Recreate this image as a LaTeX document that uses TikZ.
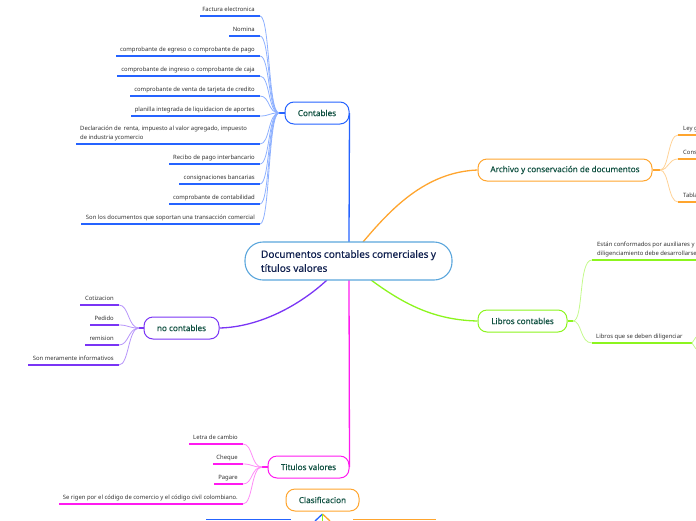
\documentclass[tikz,border=0pt]{standalone}
\usepackage{fontspec}
\setmainfont{Noto Sans}
\newfontfamily\heavyfont[FakeBold=0.25]{Noto Sans}
\usetikzlibrary{calc}
\definecolor{cblue}{HTML}{2563FF}
\definecolor{cblueL}{HTML}{8DB0FF}
\definecolor{cviol}{HTML}{7A35F5}
\definecolor{cviolL}{HTML}{B795FA}
\definecolor{cmag}{HTML}{FF1AF0}
\definecolor{cmagL}{HTML}{FF8CF7}
\definecolor{corg}{HTML}{FFA52E}
\definecolor{corgL}{HTML}{FFD296}
\definecolor{cgrn}{HTML}{8CF51E}
\definecolor{cgrnL}{HTML}{C4FA8C}
\definecolor{croot}{HTML}{5BA6DC}
\definecolor{ctxt}{HTML}{0F5040}
\definecolor{cnavy}{HTML}{10204F}
\definecolor{cleaf}{HTML}{333333}
\tikzset{
  x=1pt,y=-1pt,
  topic/.style={draw=#1,line width=1pt,fill=white,rounded corners=9pt,minimum height=22pt,inner sep=0pt,text=ctxt,font=\heavyfont\fontsize{8.15}{10}\selectfont},
  rootnode/.style={draw=croot,line width=1.1pt,fill=white,rounded corners=18pt,minimum height=38pt,minimum width=207pt,inner sep=0pt,text=cnavy,font=\heavyfont\fontsize{10.1}{14}\selectfont,align=left},
  leaftext/.style={text=cleaf,inner sep=0pt,font=\fontsize{5.9}{8.6}\selectfont},
  bar/.style={draw=#1,line width=1.5pt},
  twig/.style={draw=#1,line width=.8pt},
  main/.style={draw=#1,line width=1.3pt},
}
% name, left x, right x, bar y, text, bar colour, twig colour, junction
\newcommand{\leafL}[8]{%
  \coordinate (#1a) at (#2,#4);\coordinate (#1b) at (#3,#4);
  \node[leaftext,anchor=base east] (#1) at (#3-5,#4-5) {#5};
  \draw[twig=#7] (#1b) .. controls (#3+10,#4) and ($(#8)+(-11,0)$) .. (#8);
  \draw[bar=#6] (#1a) -- (#1b);
}
\begin{document}
\begin{tikzpicture}
\useasboundingbox (0,0) rectangle (696,520);
\clip (0,0) rectangle (696,520);
\coordinate (jc) at (279,113);
\coordinate (jn) at (139,328);
\coordinate (jt) at (262,467);
\coordinate (ja) at (660,170);
\coordinate (jl) at (573,321);
\node[topic=cblue,minimum width=64pt] (cont) at (317,113) {Contables};
\node[topic=cviol,minimum width=75pt] (noc) at (181.5,328) {no contables};
\node[topic=cmag,minimum width=81pt] (tit) at (308.5,467) {Titulos valores};
\node[topic=corg,minimum width=174pt] (arch) at (565,170) {Archivo y conservación de documentos};
\node[topic=cgrn,minimum width=89pt] (lib) at (522.5,321) {Libros contables};
\node[topic=corg,minimum width=73pt] (clas) at (322.5,500) {Clasificacion};
\coordinate (rt) at (349,242);\coordinate (rb) at (349,280);
\coordinate (ra) at (363,242);\coordinate (rl) at (371,280);\coordinate (rn) at (327,280);
\draw[main=cblue] (cont.east) -- (rt);
\draw[main=cmag] (tit.east) -- (rb);
\draw[main=cviol] (noc.east) .. controls (260,327) and (300,305) .. (rn);
\draw[main=corg] (arch.west) .. controls (425,172) and (390,210) .. (ra);
\draw[main=cgrn] (lib.west) .. controls (435,320) and (405,305) .. (rl);
\node[rootnode] (root) at (348.5,261) {\parbox{175pt}{Documentos contables comerciales y\\ títulos valores}};
\draw[main=cblue] (jc) -- (cont.west);
\draw[main=cviol] (jn) -- (noc.west);
\draw[main=cmag] (jt) -- (tit.west);
\draw[main=corg] (arch.east) -- (ja);
\draw[main=cgrn] (lib.east) -- (jl);
% Contables leaves
\leafL{c1}{200}{260}{16}{Factura electronica}{cblue}{cblueL}{jc}
\leafL{c2}{229}{260}{36}{Nomina}{cblue}{cblueL}{jc}
\leafL{c3}{116}{260}{56}{comprobante de egreso o comprobante de pago}{cblue}{cblueL}{jc}
\leafL{c4}{117}{260}{76}{comprobante de ingreso o comprobante de caja}{cblue}{cblueL}{jc}
\leafL{c5}{130}{260}{96}{comprobante de venta de tarjeta de credito}{cblue}{cblueL}{jc}
\leafL{c6}{131}{260}{116}{planilla integrada de liquidacion de aportes}{cblue}{cblueL}{jc}
\leafL{c7}{76}{260}{144}{}{cblue}{cblueL}{jc}
\node[leaftext,anchor=base west,align=left] (c7t) at (80,139.5) {Declaración de\, renta, impuesto al valor agregado, impuesto\\de industria ycomercio};
\leafL{c8}{169}{260}{164}{Recibo de pago interbancario}{cblue}{cblueL}{jc}
\leafL{c9}{179}{260}{184}{consignaciones bancarias}{cblue}{cblueL}{jc}
\leafL{c10}{169}{260}{204}{comprobante de contabilidad}{cblue}{cblueL}{jc}
\leafL{c11}{81}{260}{224}{Son los documentos que soportan una transacción comercial}{cblue}{cblueL}{jc}
% no contables
\leafL{n1}{80}{119}{305}{Cotizacion}{cviol}{cviolL}{jn}
\leafL{n2}{90}{119}{325}{Pedido}{cviol}{cviolL}{jn}
\leafL{n3}{85}{119}{345}{remision}{cviol}{cviolL}{jn}
\leafL{n4}{28}{119}{365}{Son meramente informativos}{cviol}{cviolL}{jn}
% titulos
\leafL{t1}{189}{243}{444}{Letra de cambio}{cmag}{cmagL}{jt}
\leafL{t2}{213}{243}{464}{Cheque}{cmag}{cmagL}{jt}
\leafL{t3}{214}{243}{484}{Pagare}{cmag}{cmagL}{jt}
\leafL{t4}{59}{243}{504}{Se rigen por el código de comercio y el código civil colombiano.}{cmag}{cmagL}{jt}
% archivo
\coordinate (a1) at (678,135);\coordinate (a2) at (678,159);\coordinate (a3) at (678,202);
\coordinate (a1e) at (696,135);\coordinate (a2e) at (696,159);\coordinate (a3e) at (696,202);
\foreach \k in {1,2,3}{
  \draw[twig=corgL] (ja) .. controls ($(ja)+(9,0)$) and ($(a\k)+(-10,0)$) .. (a\k);
  \draw[bar=corg] (a\k) -- (a\k e);
}
\node[leaftext,anchor=base west] (at1) at (683,130) {Ley g};
\node[leaftext,anchor=base west] (at2) at (683,154) {Cons};
\node[leaftext,anchor=base west] (at3) at (683,197) {Tabla};
% libros
\coordinate (l1) at (592,260);\coordinate (l1e) at (696,260);
\coordinate (l2) at (592,343);\coordinate (l2e) at (692,343);
\coordinate (f1) at (696,337);\coordinate (f2) at (696,349);
\draw[twig=cgrnL] (jl) .. controls (584,321) and (578,260) .. (l1);
\draw[twig=cgrnL] (jl) .. controls (582,321) and (580,343) .. (l2);
\draw[bar=cgrn] (l1) -- (l1e);
\draw[bar=cgrn] (l2) -- (l2e);
\draw[twig=cgrnL] (l2e) -- (f1);
\draw[twig=cgrnL] (l2e) -- (f2);
\node[leaftext,anchor=base west,align=left] (lt1) at (597,255.5) {Están conformados por auxiliares y\\diligenciamiento debe desarrollarse};
\node[leaftext,anchor=base west] (lt2) at (596,338) {Libros que se deben diligenciar};
% bottom
\coordinate (b0) at (322.5,514);
\coordinate (b1) at (206,519.3);\coordinate (b1e) at (291,519.3);
\coordinate (b2) at (353,519.3);\coordinate (b2e) at (436,519.3);
\coordinate (bl) at (315,521);\coordinate (bm) at (322.5,521);\coordinate (br) at (330,521);
\draw[bar=cblue] (b1) -- (b1e);
\draw[bar=corg] (b2) -- (b2e);
\draw[main=cblue] (b0) -- (bl);
\draw[main=corg] (b0) -- (br);
\draw[main=cgrn] (b0) -- (bm);
\end{tikzpicture}
\end{document}
